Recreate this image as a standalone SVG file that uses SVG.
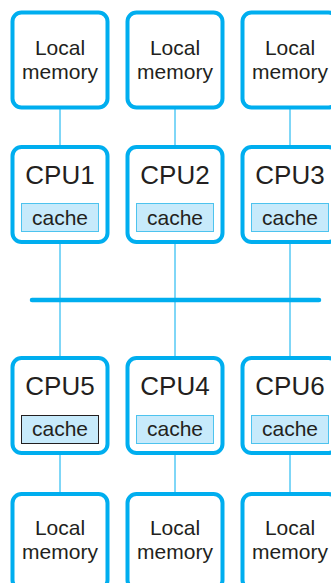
<svg xmlns="http://www.w3.org/2000/svg" width="331" height="583" viewBox="0 0 331 583">
<style>
.box{fill:#fff;stroke:#00aeef;stroke-width:4}
.cache{fill:#c7eafb;stroke:#4dc3ee;stroke-width:1}
.cache.dark{stroke:#231f20}
.lbl{font-family:"Liberation Sans",Arial,sans-serif;fill:#231f20;text-anchor:middle}
.mem{font-size:21px}
.cpu{font-size:26px}
.ct{font-size:21px}
.wire{stroke:#00aeef;stroke-width:1;fill:none}
.bus{stroke:#00aeef;stroke-width:4.5;stroke-linecap:round;fill:none}
</style>
<g id="connectors">
<line class="wire" x1="60" y1="107" x2="60" y2="147"/>
<line class="wire" x1="175" y1="107" x2="175" y2="147"/>
<line class="wire" x1="290" y1="107" x2="290" y2="147"/>
<line class="wire" x1="60" y1="242" x2="60" y2="358"/>
<line class="wire" x1="175" y1="242" x2="175" y2="358"/>
<line class="wire" x1="290" y1="242" x2="290" y2="358"/>
<line class="wire" x1="60" y1="453" x2="60" y2="494"/>
<line class="wire" x1="175" y1="453" x2="175" y2="494"/>
<line class="wire" x1="290" y1="453" x2="290" y2="494"/>
<line class="bus" x1="32" y1="300" x2="319" y2="300"/>
</g>
<g id="mem1"><rect class="box" x="12.5" y="12.5" width="95" height="95" rx="9"/><text class="lbl mem" x="60" y="55">Local</text><text class="lbl mem" x="60" y="79">memory</text></g>
<g id="mem2"><rect class="box" x="127.5" y="12.5" width="95" height="95" rx="9"/><text class="lbl mem" x="175" y="55">Local</text><text class="lbl mem" x="175" y="79">memory</text></g>
<g id="mem3"><rect class="box" x="242.5" y="12.5" width="95" height="95" rx="9"/><text class="lbl mem" x="290" y="55">Local</text><text class="lbl mem" x="290" y="79">memory</text></g>
<g id="cpu1"><rect class="box" x="12.5" y="147" width="95" height="95" rx="9"/><text class="lbl cpu" x="60" y="184">CPU1</text><rect class="cache" x="21.5" y="203.5" width="77" height="28"/><text class="lbl ct" x="60" y="224.5">cache</text></g>
<g id="cpu2"><rect class="box" x="127.5" y="147" width="95" height="95" rx="9"/><text class="lbl cpu" x="175" y="184">CPU2</text><rect class="cache" x="136.5" y="203.5" width="77" height="28"/><text class="lbl ct" x="175" y="224.5">cache</text></g>
<g id="cpu3"><rect class="box" x="242.5" y="147" width="95" height="95" rx="9"/><text class="lbl cpu" x="290" y="184">CPU3</text><rect class="cache" x="251.5" y="203.5" width="77" height="28"/><text class="lbl ct" x="290" y="224.5">cache</text></g>
<g id="cpu5"><rect class="box" x="12.5" y="358" width="95" height="95" rx="9"/><text class="lbl cpu" x="60" y="395">CPU5</text><rect class="cache dark" x="21.5" y="415.5" width="77" height="28"/><text class="lbl ct" x="60" y="436">cache</text></g>
<g id="cpu4"><rect class="box" x="127.5" y="358" width="95" height="95" rx="9"/><text class="lbl cpu" x="175" y="395">CPU4</text><rect class="cache" x="136.5" y="415.5" width="77" height="28"/><text class="lbl ct" x="175" y="436">cache</text></g>
<g id="cpu6"><rect class="box" x="242.5" y="358" width="95" height="95" rx="9"/><text class="lbl cpu" x="290" y="395">CPU6</text><rect class="cache" x="251.5" y="415.5" width="77" height="28"/><text class="lbl ct" x="290" y="436">cache</text></g>
<g id="mem5"><rect class="box" x="12.5" y="494" width="95" height="95" rx="9"/><text class="lbl mem" x="60" y="535">Local</text><text class="lbl mem" x="60" y="559">memory</text></g>
<g id="mem4"><rect class="box" x="127.5" y="494" width="95" height="95" rx="9"/><text class="lbl mem" x="175" y="535">Local</text><text class="lbl mem" x="175" y="559">memory</text></g>
<g id="mem6"><rect class="box" x="242.5" y="494" width="95" height="95" rx="9"/><text class="lbl mem" x="290" y="535">Local</text><text class="lbl mem" x="290" y="559">memory</text></g>
</svg>
